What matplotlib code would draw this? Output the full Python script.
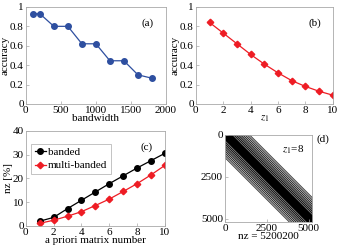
import matplotlib
matplotlib.use('Agg')
import matplotlib.pyplot as plt
import numpy as np

plt.rcParams['font.family'] = ['Liberation Serif', 'DejaVu Serif']
plt.rcParams['mathtext.fontset'] = 'stix'
plt.rcParams['font.size'] = 8

# (a) accuracy vs bandwidth
bandwidth = [100, 200, 400, 600, 800, 1000, 1200, 1400, 1600, 1800]
acc_a = [0.93, 0.93, 0.80, 0.80, 0.62, 0.62, 0.445, 0.445, 0.30, 0.265]

# (b) accuracy vs z1
z1 = [1, 2, 3, 4, 5, 6, 7, 8, 9, 10]
acc_b = [0.84, 0.73, 0.62, 0.51, 0.41, 0.32, 0.24, 0.18, 0.13, 0.09]

# (c) nz [%] vs a priori matrix number
matrix_num = [1, 2, 3, 4, 5, 6, 7, 8, 9, 10]
nz_banded = [2.0, 3.6, 7.3, 10.8, 14.3, 17.8, 21.1, 24.4, 27.5, 30.6]
nz_multi = [1.1, 2.4, 4.1, 6.0, 8.6, 11.3, 14.5, 17.8, 21.5, 25.5]

# (d) spy pattern
N = 5200
half_band = 1450
nz_total = 5200200

blue = '#2e4fa0'
red = '#ee1c24'
grey = '#a8a8a8'


def style(ax):
    for s in ax.spines.values():
        s.set_color(grey)
        s.set_linewidth(0.6)
    ax.tick_params(direction='in', length=2, width=0.5, color=grey, pad=1.5, labelsize=8)


fig = plt.figure(figsize=(3.4, 2.48), dpi=100)

ax1 = fig.add_axes([0.076, 0.581, 0.412, 0.391])
ax1.plot(bandwidth, acc_a, '-o', color=blue, lw=0.9, ms=4)
ax1.set_xlim(0, 2000)
ax1.set_ylim(0, 1)
ax1.set_xticks([0, 500, 1000, 1500, 2000])
ax1.set_yticks([0, 0.2, 0.4, 0.6, 0.8, 1])
ax1.set_yticklabels(['0', '0.2', '0.4', '0.6', '0.8', '1'])
ax1.set_xlabel('bandwidth', labelpad=-1)
ax1.set_ylabel('accuracy', labelpad=0)
ax1.text(0.87, 0.83, '(a)', transform=ax1.transAxes, ha='center', va='center')
style(ax1)

ax2 = fig.add_axes([0.576, 0.581, 0.403, 0.391])
ax2.plot(z1, acc_b, '-D', color=red, lw=0.9, ms=3.3)
ax2.set_xlim(0, 10)
ax2.set_ylim(0, 1)
ax2.set_xticks([0, 2, 4, 6, 8, 10])
ax2.set_yticks([0, 0.2, 0.4, 0.6, 0.8, 1])
ax2.set_yticklabels(['0', '0.2', '0.4', '0.6', '0.8', '1'])
ax2.set_xlabel('$z_1$', labelpad=-1)
ax2.set_ylabel('accuracy', labelpad=0)
ax2.text(0.87, 0.83, '(b)', transform=ax2.transAxes, ha='center', va='center')
style(ax2)

ax3 = fig.add_axes([0.076, 0.089, 0.409, 0.383])
ax3.plot(matrix_num, nz_banded, '-o', color='black', lw=0.9, ms=4, label='banded')
ax3.plot(matrix_num, nz_multi, '-D', color=red, lw=0.9, ms=3.3, label='multi-banded')
ax3.set_xlim(0, 10)
ax3.set_ylim(0, 40)
ax3.set_xticks([0, 2, 4, 6, 8, 10])
ax3.set_yticks([0, 10, 20, 30, 40])
ax3.set_xlabel('a priori matrix number', labelpad=-1)
ax3.set_ylabel('nz [%]', labelpad=0)
ax3.text(0.87, 0.83, '(c)', transform=ax3.transAxes, ha='center', va='center')
leg = ax3.legend(loc='upper left', bbox_to_anchor=(0.04, 0.86), fancybox=False,
                 handlelength=1.0, handletextpad=0.2, borderpad=0.3,
                 labelspacing=0.3, fontsize=8, borderaxespad=0)
leg.get_frame().set_edgecolor(grey)
leg.get_frame().set_linewidth(0.6)
style(ax3)

ax4 = fig.add_axes([0.662, 0.105, 0.256, 0.351])
n = 1040
i, j = np.mgrid[0:n, 0:n]
d = np.abs(i - j) * (N / n)
img = np.ones((n, n))
inband = d <= half_band
level = np.clip((d - 300) / (half_band - 300), 0, 1)
gap = ((d % 130) / 130.0) < (0.2 + 0.3 * level)
img[inband] = 0.0
img[inband & gap & (d > 300)] = 1.0
ax4.imshow(img, cmap='gray', vmin=0, vmax=1, extent=(0, N, N, 0),
           interpolation='antialiased', aspect='auto')
ax4.set_xlim(0, N)
ax4.set_ylim(N, 0)
ax4.set_xticks([0, 2500, 5000])
ax4.set_yticks([0, 2500, 5000])
ax4.set_xlabel('nz = %d' % nz_total, labelpad=-1)
ax4.text(0.78, 0.83, '$z_1$=8', transform=ax4.transAxes, ha='center', va='center')
fig.text(0.95, 0.44, '(d)', ha='center', va='center', fontsize=8)
style(ax4)

fig.savefig('out.png', dpi=100)
